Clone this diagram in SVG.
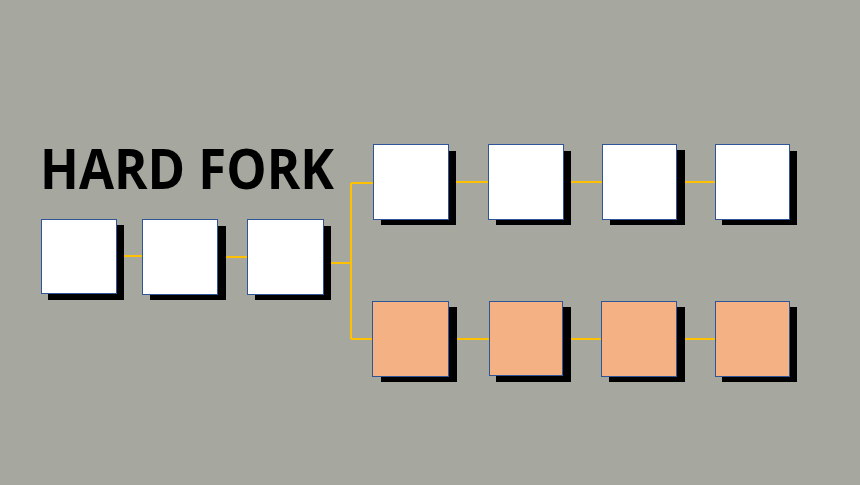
<svg xmlns="http://www.w3.org/2000/svg" width="860" height="485" viewBox="0 0 860 485">
<style>
.sh{fill:#000}
.bw{fill:#fff;stroke:#2F5597;stroke-width:1}
.bo{fill:#F4B183;stroke:#2F5597;stroke-width:1}
.c{fill:none;stroke:#FFC000;stroke-width:2}
.t{font-family:"Open Sans","Liberation Sans",sans-serif;font-weight:bold;font-size:55px;fill:#000}
</style>
<rect width="860" height="485" fill="#A6A89F"/>
<text class="t" x="40" y="189" textLength="294" lengthAdjust="spacingAndGlyphs">HARD FORK</text>
<g id="connectors">
<path class="c" d="M116 256H142"/>
<path class="c" d="M218 257H247"/>
<path class="c" d="M330 263H351"/>
<path class="c" d="M351 183V339"/>
<path class="c" d="M351 183H373"/>
<path class="c" d="M351 339H372"/>
<path class="c" d="M448 182H488"/>
<path class="c" d="M563 182H602"/>
<path class="c" d="M676 182H715"/>
<path class="c" d="M448 339H489"/>
<path class="c" d="M562 339H601"/>
<path class="c" d="M676 339H715"/>
</g>
<g id="b1"><rect class="sh" x="48" y="225" width="76" height="75"/><rect class="bw" x="41.5" y="219.5" width="75" height="74"/></g>
<g id="b2"><rect class="sh" x="150" y="226" width="76" height="74"/><rect class="bw" x="142.5" y="219.5" width="75" height="75"/></g>
<g id="b3"><rect class="sh" x="255" y="226" width="76" height="74"/><rect class="bw" x="247.5" y="219.5" width="76" height="75"/></g>
<g id="t1"><rect class="sh" x="381" y="151" width="75" height="74"/><rect class="bw" x="373.5" y="144.5" width="75" height="75"/></g>
<g id="t2"><rect class="sh" x="496" y="151" width="75" height="74"/><rect class="bw" x="488.5" y="144.5" width="75" height="75"/></g>
<g id="t3"><rect class="sh" x="610" y="150" width="75" height="75"/><rect class="bw" x="602.5" y="144.5" width="74" height="75"/></g>
<g id="t4"><rect class="sh" x="722" y="151" width="75" height="74"/><rect class="bw" x="715.5" y="144.5" width="74" height="75"/></g>
<g id="o1"><rect class="sh" x="381" y="307" width="76" height="75"/><rect class="bo" x="372.5" y="301.5" width="76" height="75"/></g>
<g id="o2"><rect class="sh" x="496" y="307" width="75" height="75"/><rect class="bo" x="489.5" y="301.5" width="73" height="74"/></g>
<g id="o3"><rect class="sh" x="609" y="307" width="76" height="75"/><rect class="bo" x="601.5" y="301.5" width="75" height="75"/></g>
<g id="o4"><rect class="sh" x="722" y="307" width="75" height="75"/><rect class="bo" x="715.5" y="301.5" width="74" height="75"/></g>
</svg>
